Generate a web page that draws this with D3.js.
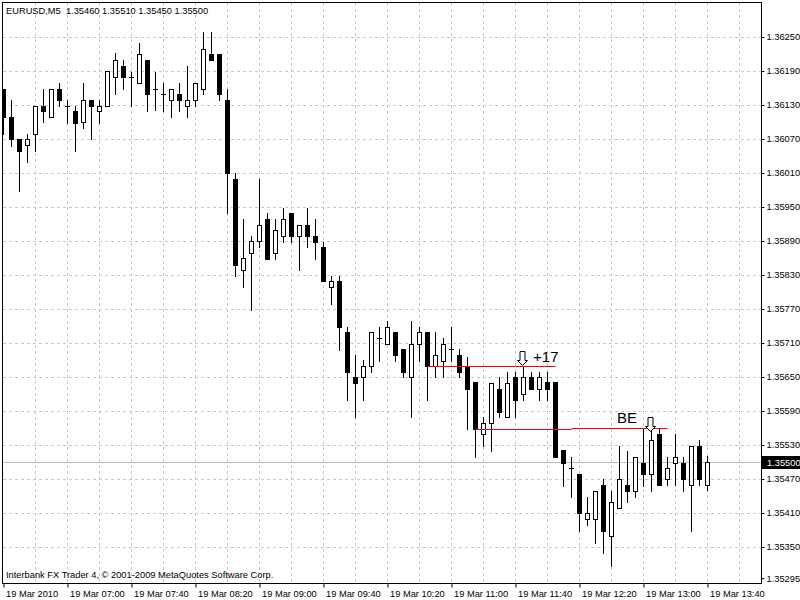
<!DOCTYPE html>
<html>
<head>
<meta charset="utf-8">
<script src="https://cdn.jsdelivr.net/npm/d3@7"></script>
<style>
  body { margin: 0; background: #fff; }
  svg { display: block; font-family: "Liberation Sans", Arial, sans-serif; }
</style>
</head>
<body>
<div id="chart"></div>
<script>
// EURUSD M5 bars, 19 Mar 2010 06:20 .. 13:40
const opens = [
  1.36158, 1.36109, 1.36070, 1.36059, 1.36079, 1.36128, 1.36109, 1.36158, 1.36128, 1.36119,
  1.36100, 1.36139, 1.36119, 1.36128, 1.36179, 1.36199, 1.36179, 1.36169, 1.36209, 1.36159,
  1.36149, 1.36139, 1.36149, 1.36129, 1.36139, 1.36158, 1.36220, 1.36220, 1.36139, 1.35999,
  1.35839, 1.35869, 1.35890, 1.35929, 1.35869, 1.35899, 1.35939, 1.35899, 1.35918, 1.35899,
  1.35879, 1.35809, 1.35819, 1.35729, 1.35650, 1.35650, 1.35669, 1.35719, 1.35708, 1.35729,
  1.35699, 1.35650, 1.35709, 1.35729, 1.35669, 1.35679, 1.35699, 1.35688, 1.35669, 1.35641,
  1.35549, 1.35568, 1.35629, 1.35579, 1.35650, 1.35620, 1.35650, 1.35628, 1.35641, 1.35641,
  1.35521, 1.35489, 1.35479, 1.35399, 1.35399, 1.35460, 1.35369, 1.35419, 1.35460, 1.35449,
  1.35499, 1.35479, 1.35550, 1.35470, 1.35499, 1.35499, 1.35459, 1.35529, 1.35460
];
const highs = [
  1.36158, 1.36139, 1.36070, 1.36079, 1.36128, 1.36159, 1.36158, 1.36169, 1.36139, 1.36129,
  1.36169, 1.36139, 1.36139, 1.36190, 1.36221, 1.36209, 1.36189, 1.36240, 1.36209, 1.36189,
  1.36169, 1.36158, 1.36169, 1.36199, 1.36169, 1.36259, 1.36259, 1.36220, 1.36158, 1.36010,
  1.35929, 1.35899, 1.35999, 1.35939, 1.35929, 1.35948, 1.35939, 1.35918, 1.35948, 1.35929,
  1.35889, 1.35829, 1.35829, 1.35738, 1.35689, 1.35680, 1.35729, 1.35738, 1.35749, 1.35729,
  1.35699, 1.35749, 1.35738, 1.35729, 1.35729, 1.35719, 1.35738, 1.35699, 1.35685, 1.35641,
  1.35579, 1.35639, 1.35650, 1.35658, 1.35658, 1.35670, 1.35659, 1.35659, 1.35659, 1.35641,
  1.35521, 1.35509, 1.35479, 1.35439, 1.35449, 1.35470, 1.35449, 1.35529, 1.35520, 1.35509,
  1.35558, 1.35558, 1.35558, 1.35509, 1.35549, 1.35509, 1.35529, 1.35539, 1.35510
];
const lows = [
  1.36079, 1.36058, 1.35978, 1.36029, 1.36048, 1.36100, 1.36109, 1.36129, 1.36099, 1.36048,
  1.36089, 1.36070, 1.36099, 1.36128, 1.36149, 1.36158, 1.36128, 1.36169, 1.36119, 1.36122,
  1.36119, 1.36109, 1.36119, 1.36109, 1.36129, 1.36149, 1.36209, 1.36139, 1.35939, 1.35829,
  1.35808, 1.35768, 1.35879, 1.35859, 1.35859, 1.35889, 1.35889, 1.35838, 1.35879, 1.35859,
  1.35819, 1.35778, 1.35698, 1.35609, 1.35579, 1.35609, 1.35658, 1.35679, 1.35708, 1.35679,
  1.35650, 1.35579, 1.35679, 1.35609, 1.35650, 1.35650, 1.35679, 1.35650, 1.35559, 1.35508,
  1.35528, 1.35519, 1.35579, 1.35579, 1.35579, 1.35609, 1.35628, 1.35609, 1.35609, 1.35509,
  1.35458, 1.35439, 1.35378, 1.35389, 1.35357, 1.35339, 1.35317, 1.35419, 1.35429, 1.35439,
  1.35458, 1.35449, 1.35459, 1.35459, 1.35459, 1.35448, 1.35378, 1.35459, 1.35450
];
const closes = [
  1.36108, 1.36070, 1.36048, 1.36070, 1.36128, 1.36119, 1.36158, 1.36138, 1.36128, 1.36099,
  1.36139, 1.36128, 1.36128, 1.36190, 1.36209, 1.36179, 1.36179, 1.36220, 1.36149, 1.36159,
  1.36149, 1.36158, 1.36139, 1.36139, 1.36169, 1.36229, 1.36209, 1.36149, 1.36010, 1.35848,
  1.35860, 1.35890, 1.35918, 1.35859, 1.35909, 1.35929, 1.35899, 1.35918, 1.35899, 1.35889,
  1.35819, 1.35819, 1.35738, 1.35658, 1.35639, 1.35669, 1.35729, 1.35719, 1.35738, 1.35688,
  1.35658, 1.35709, 1.35729, 1.35669, 1.35688, 1.35709, 1.35699, 1.35658, 1.35629, 1.35558,
  1.35568, 1.35639, 1.35589, 1.35639, 1.35609, 1.35650, 1.35628, 1.35650, 1.35628, 1.35509,
  1.35499, 1.35489, 1.35410, 1.35410, 1.35449, 1.35378, 1.35429, 1.35470, 1.35448, 1.35509,
  1.35479, 1.35538, 1.35459, 1.35489, 1.35509, 1.35470, 1.35529, 1.35470, 1.35500
];

// axis labels
const timeTickIdx = [0, 8, 16, 24, 32, 40, 48, 56, 64, 72, 80, 88];
const timeTickLabels = ["19 Mar 2010", "19 Mar 07:00", "19 Mar 07:40", "19 Mar 08:20", "19 Mar 09:00",
  "19 Mar 09:40", "19 Mar 10:20", "19 Mar 11:00", "19 Mar 11:40", "19 Mar 12:20", "19 Mar 13:00", "19 Mar 13:40"];
const priceTicks = [1.36250, 1.36190, 1.36130, 1.36070, 1.36010, 1.35950, 1.35890, 1.35830, 1.35770,
  1.35710, 1.35650, 1.35590, 1.35530, 1.35470, 1.35410, 1.35350, 1.35295];

// trade annotations: [from bar, to bar, price]
const tradeLines = [[53, 69, 1.35669], [59, 71, 1.35558], [71, 83, 1.35560]];
// arrows: [bar position, tip price]
const arrows = [[64.8, 1.35671], [80.8, 1.35555]];
// texts: [label, bar position, baseline price]
const notes = [["+17", 66.2, 1.35677], ["BE", 76.7, 1.35568]];

const symbol = "EURUSD,M5";
const lastPrice = 1.35500;

const W = 800, H = 600;
const plot = { left: 2, top: 2, right: 761, bottom: 583 };

const svg = d3.select('#chart').append('svg')
  .attr('width', W).attr('height', H);

const x = d3.scaleLinear().domain([0, 88]).range([3.5, 707.5]);
const y = d3.scaleLinear().domain([1.35295, 1.36250]).range([578.17, 37]);
const row = p => Math.round(y(p));

svg.append('defs').append('clipPath').attr('id', 'plotclip')
  .append('rect')
  .attr('x', plot.left + 1).attr('y', plot.top + 1)
  .attr('width', plot.right - plot.left - 1).attr('height', plot.bottom - plot.top - 1);

// grid (no line at the bottom min label)
const grid = svg.append('g').attr('stroke', '#c8c8c8').attr('stroke-dasharray', '3,3');
grid.selectAll('line.h')
  .data(priceTicks.slice(0, -1))
  .join('line')
  .attr('class', 'h')
  .attr('x1', plot.left + 1).attr('x2', plot.right)
  .attr('y1', d => row(d) + 0.5).attr('y2', d => row(d) + 0.5);
grid.selectAll('line.v')
  .data(d3.range(4, 93, 4))
  .join('line')
  .attr('class', 'v')
  .attr('x1', d => x(d)).attr('x2', d => x(d))
  .attr('y1', plot.top + 1).attr('y2', plot.bottom);

// current price line
svg.append('line')
  .attr('x1', plot.left + 1).attr('x2', plot.right)
  .attr('y1', row(lastPrice) + 0.5).attr('y2', row(lastPrice) + 0.5)
  .attr('stroke', '#c0c0c0');

const bars = opens.map((o, i) => ({ i, o, h: highs[i], l: lows[i], c: closes[i] }));
const cg = svg.append('g').attr('clip-path', 'url(#plotclip)');

// wicks
cg.selectAll('line.wick')
  .data(bars)
  .join('line')
  .attr('class', 'wick')
  .attr('x1', d => x(d.i)).attr('x2', d => x(d.i))
  .attr('y1', d => row(d.h)).attr('y2', d => row(d.l) + 1)
  .attr('stroke', '#000');

// bodies
cg.selectAll('rect.body')
  .data(bars.filter(d => row(d.o) !== row(d.c)))
  .join('rect')
  .attr('class', 'body')
  .each(function (d) {
    const top = row(Math.max(d.o, d.c)), bot = row(Math.min(d.o, d.c));
    const sel = d3.select(this);
    if (d.c > d.o) {
      sel.attr('x', x(d.i) - 2).attr('y', top + 0.5)
        .attr('width', 4).attr('height', bot - top)
        .attr('fill', '#fff').attr('stroke', '#000');
    } else {
      sel.attr('x', x(d.i) - 2.5).attr('y', top)
        .attr('width', 5).attr('height', bot - top + 1)
        .attr('fill', '#000');
    }
  });

// doji
cg.selectAll('line.doji')
  .data(bars.filter(d => row(d.o) === row(d.c)))
  .join('line')
  .attr('class', 'doji')
  .attr('x1', d => x(d.i) - 2.5).attr('x2', d => x(d.i) + 2.5)
  .attr('y1', d => row(d.o) + 0.5).attr('y2', d => row(d.o) + 0.5)
  .attr('stroke', '#000');

// trade lines
cg.selectAll('line.trade')
  .data(tradeLines)
  .join('line')
  .attr('class', 'trade')
  .attr('x1', d => x(d[0])).attr('x2', d => x(d[1]))
  .attr('y1', d => row(d[2]) + 0.5).attr('y2', d => row(d[2]) + 0.5)
  .attr('stroke', '#ff0000');

// hollow down arrows
cg.selectAll('path.arrow')
  .data(arrows)
  .join('path')
  .attr('class', 'arrow')
  .attr('d', d => {
    const tx = Math.round(x(d[0])) + 0.5, ty = row(d[1]) + 0.5;
    return `M${tx},${ty} L${tx - 5},${ty - 5} L${tx - 2.5},${ty - 5} L${tx - 2.5},${ty - 14}` +
      ` L${tx + 2.5},${ty - 14} L${tx + 2.5},${ty - 5} L${tx + 5},${ty - 5} Z`;
  })
  .attr('fill', '#fff').attr('stroke', '#000');

cg.selectAll('text.note')
  .data(notes)
  .join('text')
  .attr('class', 'note')
  .attr('x', d => x(d[1])).attr('y', d => y(d[2]))
  .attr('font-size', 15)
  .text(d => d[0]);

// frame
svg.append('rect')
  .attr('x', plot.left + 0.5).attr('y', plot.top + 0.5)
  .attr('width', plot.right - plot.left).attr('height', plot.bottom - plot.top)
  .attr('fill', 'none').attr('stroke', '#000');

// price axis
const yAxis = svg.append('g')
  .attr('transform', `translate(${plot.right + 0.5},0)`)
  .call(d3.axisRight(y).tickValues(priceTicks).tickFormat(d3.format('.5f')).tickSize(3).tickPadding(2));
yAxis.select('.domain').remove();
yAxis.selectAll('text').attr('font-size', 9.3).attr('font-family', '"Liberation Sans", Arial, sans-serif').attr('fill', '#000');

// current price tag
svg.append('rect')
  .attr('x', plot.right + 1).attr('y', row(lastPrice) - 6)
  .attr('width', W - plot.right - 1).attr('height', 13)
  .attr('fill', '#000');
svg.append('text')
  .attr('x', plot.right + 6).attr('y', row(lastPrice) + 0.5)
  .attr('dy', '0.35em')
  .attr('font-size', 9.3).attr('fill', '#fff')
  .text(d3.format('.5f')(lastPrice));

// time axis
const xAxis = svg.append('g')
  .attr('transform', `translate(0,${plot.bottom + 0.5})`)
  .call(d3.axisBottom(x).tickValues(timeTickIdx).tickFormat((d, i) => timeTickLabels[i]).tickSize(4).tickPadding(1));
xAxis.select('.domain').remove();
xAxis.selectAll('text')
  .attr('text-anchor', 'start').attr('dx', 2).attr('dy', '0.9em')
  .attr('font-size', 9.3).attr('font-family', '"Liberation Sans", Arial, sans-serif').attr('fill', '#000');

// header and footer text
svg.append('text')
  .attr('x', 6).attr('y', 14)
  .attr('font-size', 9.3)
  .style('white-space', 'pre')
  .text(`${symbol}  ${d3.format('.5f')(opens[88])} ${d3.format('.5f')(highs[88])} ${d3.format('.5f')(lows[88])} ${d3.format('.5f')(closes[88])}`);

svg.append('text')
  .attr('x', 6).attr('y', 578)
  .attr('font-size', 9.3)
  .text('Interbank FX Trader 4, © 2001-2009 MetaQuotes Software Corp.');
</script>
</body>
</html>
